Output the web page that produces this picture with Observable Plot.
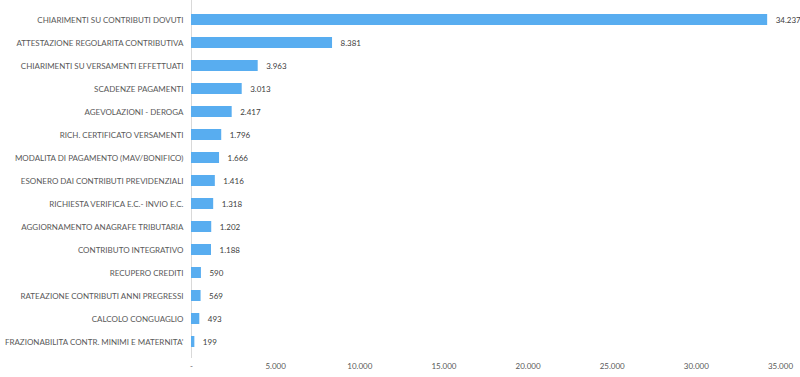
<!DOCTYPE html>
<html><head><meta charset="utf-8">
<script src="https://cdn.jsdelivr.net/npm/d3@7"></script>
<script src="https://cdn.jsdelivr.net/npm/@observablehq/plot@0.6"></script>
<style>
body{margin:0;background:#fff;}
#chart svg{font-family:Lato,"Open Sans",sans-serif;}
</style>
</head><body><div id="chart"></div>
<script>
const categories = [
  "CHIARIMENTI SU CONTRIBUTI DOVUTI",
  "ATTESTAZIONE REGOLARITA CONTRIBUTIVA",
  "CHIARIMENTI SU VERSAMENTI EFFETTUATI",
  "SCADENZE PAGAMENTI",
  "AGEVOLAZIONI - DEROGA",
  "RICH. CERTIFICATO VERSAMENTI",
  "MODALITA DI PAGAMENTO (MAV/BONIFICO)",
  "ESONERO DAI CONTRIBUTI PREVIDENZIALI",
  "RICHIESTA VERIFICA E.C.- INVIO E.C.",
  "AGGIORNAMENTO ANAGRAFE TRIBUTARIA",
  "CONTRIBUTO INTEGRATIVO",
  "RECUPERO CREDITI",
  "RATEAZIONE CONTRIBUTI ANNI PREGRESSI",
  "CALCOLO CONGUAGLIO",
  "FRAZIONABILITA CONTR. MINIMI E MATERNITA'"
];
const values = [34237, 8381, 3963, 3013, 2417, 1796, 1666, 1416, 1318, 1202, 1188, 590, 569, 493, 199];
const xTicks = [0, 5000, 10000, 15000, 20000, 25000, 30000, 35000];

const data = categories.map((c, i) => ({category: c, value: values[i]}));
const loc = d3.formatLocale({decimal: ",", thousands: ".", grouping: [3], currency: ["", "€"]});
const fmt = loc.format(",d");
const tickFmt = d => d === 0 ? "-" : fmt(d);

const chart = Plot.plot({
  width: 800,
  height: 377,
  marginLeft: 191,
  marginRight: 20,
  marginTop: 2,
  marginBottom: 19,
  style: {fontSize: "8px", color: "#595959", fontFamily: "Lato, 'Open Sans', sans-serif"},
  x: {domain: [0, 35000], label: null},
  y: {domain: categories, padding: 0, label: null},
  marks: [
    Plot.ruleX([0], {stroke: "#d9d9d9", insetTop: -2}),
    Plot.barX(data, {x: "value", y: "category", fill: "#58adf0", insetTop: 6, insetBottom: 6}),
    Plot.text(data, {x: "value", y: "category", text: d => fmt(d.value), textAnchor: "start", dx: 8, fill: "#404040", fontSize: 8}),
    Plot.axisY({tickSize: 0, tickPadding: 8, fontSize: 8, fill: "#595959"}),
    Plot.axisX({ticks: xTicks, tickFormat: tickFmt, tickSize: 0, tickPadding: 5, fontSize: 8, fill: "#595959"})
  ]
});
document.getElementById("chart").appendChild(chart);
</script>
</body></html>
